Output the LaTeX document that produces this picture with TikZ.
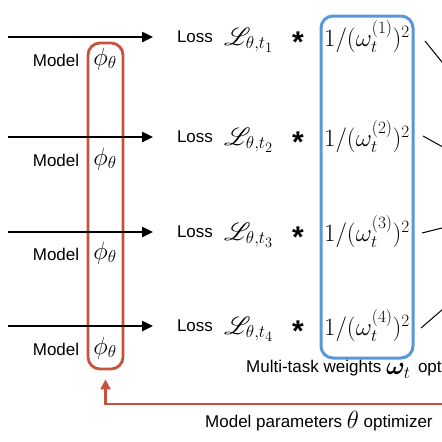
\documentclass[tikz,border=0pt]{standalone}
\usepackage{amsmath}
\usepackage{mathrsfs}
\usepackage{bm}
\usepackage{fontspec}
\setmainfont{Liberation Sans}
\usetikzlibrary{arrows.meta}
\definecolor{myred}{RGB}{200,82,62}
\definecolor{myblue}{RGB}{88,152,218}
\tikzset{
  txt/.style={inner sep=0pt, font=\fontsize{17}{20}\selectfont},
  mth/.style={inner sep=0pt, font=\fontsize{24}{28}\selectfont},
  wmth/.style={inner sep=0pt, font=\fontsize{24}{28}\selectfont},
  lmth/.style={inner sep=0pt, font=\fontsize{27}{32}\selectfont},
  starsty/.style={inner sep=0pt, font=\fontsize{30}{34}\selectfont\bfseries},
  flow/.style={line width=2.4pt, -{Triangle[length=11pt,width=10pt]}},
  slant/.style={line width=1pt},
  redbox/.style={draw=myred, line width=2.8pt, rounded corners=12pt, minimum width=35pt, inner sep=0pt},
  bluebox/.style={draw=myblue, line width=3pt, rounded corners=12pt, minimum width=92pt, inner sep=0pt},
  fb/.style={draw=myred, line width=2.2pt, -{Triangle[length=10pt,width=10pt]}}
}
\begin{document}
\begin{tikzpicture}[x=1pt,y=-1pt]
\useasboundingbox (0,0) rectangle (442,442);
\clip (0,0) rectangle (442,442);
% boxes
\node[redbox, minimum height=326pt] (rb) at (105.5,206) {};
\node[bluebox, minimum height=342pt] (bb) at (367,187) {};
% rows
\foreach \i/\y/\my in {1/37/60, 2/137/160, 3/232/254, 4/326/349}{
  \coordinate (s\i) at (8,\y);
  \coordinate (e\i) at (153,\y);
  \draw[flow] (s\i) -- (e\i);
  \node[txt] (model\i) at (56,\my) {Model};
  \node[mth] (phi\i) at (105,\my-1) {$\phi_\theta$};
  \node[txt] (loss\i) at (195,\y) {Loss};
  \node[lmth, anchor=west] (L\i) at (224,\y+3) {$\mathscr{L}_{\theta,t_\i}$};
  \node[starsty] (star\i) at (298,\y+5) {*};
  \node[wmth] (w\i) at (367,\y) {$1/(\omega_t^{(\i)})^2$};
}
% slanted lines leaving at right
\coordinate (a1) at (425,41);  \coordinate (b1) at (450,72);
\coordinate (a2) at (423,136); \coordinate (b2) at (450,151);
\coordinate (a3) at (422,233); \coordinate (b3) at (450,226);
\coordinate (a4) at (421,328); \coordinate (b4) at (450,303);
\foreach \i in {1,2,3,4}{ \draw[slant] (a\i) -- (b\i); }
% labels
\node[txt, anchor=west] (mtw) at (246,369) {Multi-task weights \raisebox{-2pt}{\fontsize{25}{28}\selectfont$\bm{\omega}_t$}\, opt};
\coordinate (fbs) at (450,404);
\draw[fb] (fbs) -- (fbs -| rb.south) -- ([yshift=-9pt]rb.south);
\node[txt, anchor=west] (mpo) at (205,421) {Model parameters \raisebox{-1pt}{\fontsize{24}{28}\selectfont$\theta$} optimizer};
\end{tikzpicture}
\end{document}
